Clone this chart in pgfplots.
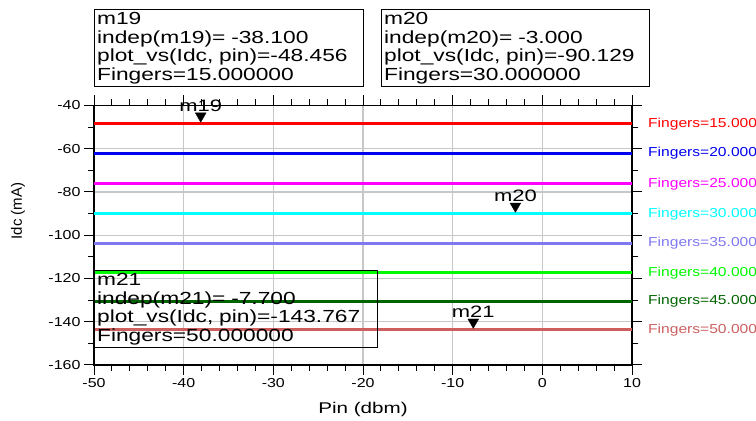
\documentclass[border=0pt]{standalone}
\usepackage{fontspec}
\setmainfont[FakeStretch=1.25]{Liberation Sans}
\newfontfamily\boxfont[FakeStretch=1.3]{Liberation Sans}
\newfontfamily\tickfont[FakeStretch=1.23]{Liberation Sans}
\newfontfamily\legfont[FakeStretch=1.2]{Liberation Sans}
\newfontfamily\mfont[FakeStretch=1.33]{Liberation Sans}
\newfontfamily\plainfont{Liberation Sans}
\usepackage{pgfplots}
\pgfplotsset{compat=1.18}
\definecolor{cA}{RGB}{255,0,0}
\definecolor{cB}{RGB}{0,0,240}
\definecolor{cC}{RGB}{255,0,255}
\definecolor{cD}{RGB}{0,255,255}
\definecolor{cE}{RGB}{128,120,240}
\definecolor{cF}{RGB}{0,250,0}
\definecolor{cG}{RGB}{0,100,0}
\definecolor{cH}{RGB}{205,95,95}
\begin{document}
\begin{tikzpicture}
\useasboundingbox (0,0) rectangle (756bp,421bp);
\begin{axis}[
  at={(94bp,56bp)}, anchor=south west,
  width=538bp, height=259.5bp, scale only axis,
  xmin=-50, xmax=10, ymin=-160, ymax=-40,
  xtick={-50,-40,...,10}, ytick={-160,-140,...,-40},
  minor x tick num=4, minor y tick num=1,
  grid=major, major grid style={black!22, line width=1.2bp},
  tick align=outside, major tick length=10bp, minor tick length=6bp,
  tick style={black, line width=1bp},
  axis line style={black, line width=1.2bp},
  clip=false,
  /pgf/number format/assume math mode=true,
  ticklabel style={font=\tickfont\fontsize{13bp}{15bp}\selectfont},
]
\addplot[cA, line width=3bp] coordinates {(-50,-48.456) (10,-48.456)};
\addplot[cB, line width=3bp] coordinates {(-50,-62.2) (10,-62.2)};
\addplot[cC, line width=3bp] coordinates {(-50,-76.3) (10,-76.3)};
\addplot[cD, line width=3bp] coordinates {(-50,-90.129) (10,-90.129)};
\addplot[cE, line width=3bp] coordinates {(-50,-103.6) (10,-103.6)};
\addplot[cF, line width=3bp] coordinates {(-50,-117.3) (10,-117.3)};
\addplot[cG, line width=3bp] coordinates {(-50,-130.7) (10,-130.7)};
\addplot[cH, line width=3bp] coordinates {(-50,-143.767) (10,-143.767)};
\addplot[only marks, mark=triangle*, mark size=6.2bp,
  mark options={fill=black, draw=black, yshift=7.8bp, rotate=180}]
  coordinates {(-38.1,-48.456) (-3,-90.129) (-7.7,-143.767)};
\node[anchor=base, yshift=12.5bp, font=\mfont\fontsize{16.5bp}{18bp}\selectfont, inner sep=0pt] at (axis cs:-38.1,-48.456) {m19};
\node[anchor=base, yshift=12.5bp, font=\mfont\fontsize{16.5bp}{18bp}\selectfont, inner sep=0pt] at (axis cs:-3,-90.129) {m20};
\node[anchor=base, yshift=12.5bp, font=\mfont\fontsize{16.5bp}{18bp}\selectfont, inner sep=0pt] at (axis cs:-7.7,-143.767) {m21};
\begin{scope}[every node/.style={anchor=west, xshift=16bp, inner sep=0pt, font=\legfont\fontsize{13bp}{15bp}\selectfont}]
\node[text=cA] at (axis cs:10,-48.456) {Fingers=15.000};
\node[text=cB] at (axis cs:10,-62.2) {Fingers=20.000};
\node[text=cC] at (axis cs:10,-76.3) {Fingers=25.000};
\node[text=cD] at (axis cs:10,-90.129) {Fingers=30.000};
\node[text=cE] at (axis cs:10,-103.6) {Fingers=35.000};
\node[text=cF] at (axis cs:10,-117.3) {Fingers=40.000};
\node[text=cG] at (axis cs:10,-130.7) {Fingers=45.000};
\node[text=cH] at (axis cs:10,-143.767) {Fingers=50.000};
\end{scope}
\end{axis}
\begin{scope}[every node/.style={draw=black, line width=1.2bp, anchor=north west, inner xsep=2.5bp, inner ysep=1.5bp, minimum height=77bp, align=left, font=\boxfont\fontsize{17.5bp}{18.5bp}\selectfont}]
\node[text width=264bp] at (94bp,412bp) {m19\\indep(m19)= -38.100\\plot\_vs(Idc, pin)=-48.456\\Fingers=15.000000};
\node[text width=263bp] at (381bp,412bp) {m20\\indep(m20)= -3.000\\plot\_vs(Idc, pin)=-90.129\\Fingers=30.000000};
\node[text width=278bp] at (94bp,151bp) {m21\\indep(m21)= -7.700\\plot\_vs(Idc, pin)=-143.767\\Fingers=50.000000};
\end{scope}
\node[font=\mfont\fontsize{15.5bp}{18bp}\selectfont] at (363bp,12bp) {Pin (dbm)};
\node[rotate=90, font=\plainfont\fontsize{15bp}{18bp}\selectfont] at (18bp,210bp) {Idc (mA)};
\end{tikzpicture}
\end{document}
